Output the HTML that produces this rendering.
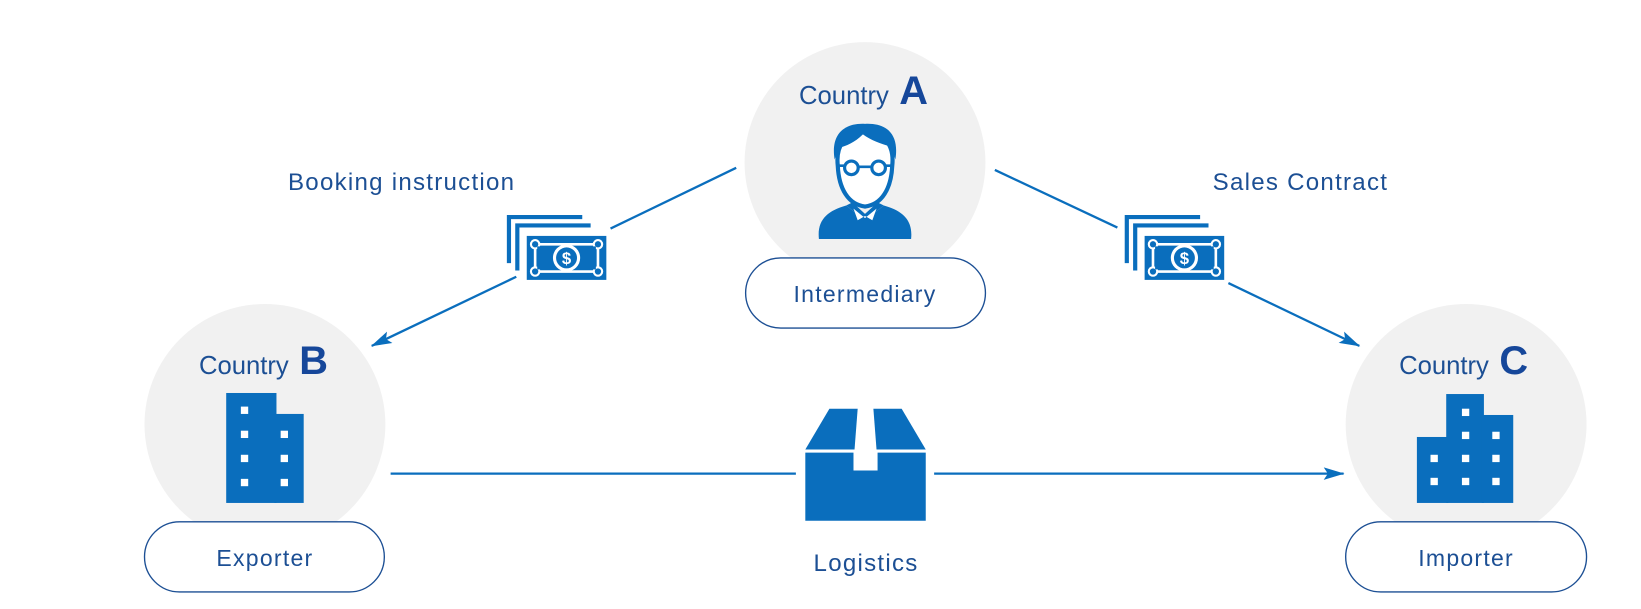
<!DOCTYPE html>
<html><head><meta charset="utf-8"><style>
html,body{margin:0;padding:0;background:#fff;}
svg{display:block;}
text{font-family:"Liberation Sans","DejaVu Sans",sans-serif;}
</style></head><body>
<svg width="1641" height="609" viewBox="0 0 1567 581" xmlns="http://www.w3.org/2000/svg">
<defs>
<marker id="ar" markerWidth="20" markerHeight="12" refX="19" refY="6" orient="auto" markerUnits="userSpaceOnUse">
<path d="M0,0 L20,6 L0,12 L4,6 Z" fill="#0a6ebd"/>
</marker>
<g id="money">
<path d="M0,44 V0 H70" fill="none" stroke="#0a6ebd" stroke-width="4"/>
<path d="M8,51 V8 H78" fill="none" stroke="#0a6ebd" stroke-width="4"/>
<rect x="17" y="18" width="76" height="42" fill="#0a6ebd"/>
<path d="M25,26 H85 V52 H25 Z" fill="none" stroke="#fff" stroke-width="2.5"/>
<circle cx="25" cy="26" r="5" fill="#fff"/><circle cx="85" cy="26" r="5" fill="#fff"/>
<circle cx="25" cy="52" r="5" fill="#fff"/><circle cx="85" cy="52" r="5" fill="#fff"/>
<circle cx="25" cy="26" r="3" fill="#0a6ebd"/><circle cx="85" cy="26" r="3" fill="#0a6ebd"/>
<circle cx="25" cy="52" r="3" fill="#0a6ebd"/><circle cx="85" cy="52" r="3" fill="#0a6ebd"/>
<rect x="27" y="28" width="56" height="22" fill="#0a6ebd"/>
<circle cx="55" cy="39" r="13" fill="#fff"/>
<circle cx="55" cy="39" r="10" fill="#0a6ebd"/>
<text x="55" y="45" font-size="16" font-weight="bold" fill="#fff" text-anchor="middle">$</text>
</g>
</defs>

<circle cx="826" cy="155" r="115" fill="#f1f1f1"/>
<circle cx="253" cy="405" r="115" fill="#f1f1f1"/>
<circle cx="1400" cy="405" r="115" fill="#f1f1f1"/>

<rect x="712" y="246" width="229" height="67" rx="33.5" fill="#fff" stroke="#1c4f94" stroke-width="1.3"/>
<rect x="138" y="498" width="229" height="67" rx="33.5" fill="#fff" stroke="#1c4f94" stroke-width="1.3"/>
<rect x="1285" y="498" width="230" height="67" rx="33.5" fill="#fff" stroke="#1c4f94" stroke-width="1.3"/>
<text x="826" y="288" font-size="22" fill="#1c4f94" text-anchor="middle" letter-spacing="1.2">Intermediary</text>
<text x="253" y="540" font-size="22" fill="#1c4f94" text-anchor="middle" letter-spacing="1.2">Exporter</text>
<text x="1400" y="540" font-size="22" fill="#1c4f94" text-anchor="middle" letter-spacing="1.2">Importer</text>

<text x="763" y="99" font-size="24.5" fill="#1c4f94">Country<tspan font-size="38" font-weight="bold" dx="10" fill="#16479a">A</tspan></text>
<text x="190" y="357" font-size="24.5" fill="#1c4f94">Country<tspan font-size="38" font-weight="bold" dx="10" fill="#16479a">B</tspan></text>
<text x="1336" y="357" font-size="24.5" fill="#1c4f94">Country<tspan font-size="38" font-weight="bold" dx="10" fill="#16479a">C</tspan></text>

<!-- person icon -->
<g fill="#0a6ebd">
<path d="M782,228 C780,210 790,201 808,196 L826,210 L844,196 C862,201 872,210 870,228 Z"/>
<path d="M800,158 C798,140 806,126 826,126 C846,126 854,140 852,158 C851,180 842,195 826,197 C810,195 801,180 800,158 Z" fill="#fff" stroke="#0a6ebd" stroke-width="4"/>
<path d="M797,152 C793,128 806,117 826,118 C846,117 859,127 855,152 L851,140 C842,137 832,134 824,128 C816,136 808,139 801,141 Z"/>
<path d="M808,196 L826,210 L844,196 L838,193 L826,204 L814,193 Z" fill="#0a6ebd"/>
<path d="M815,199 L826,208 L837,199 L833,210 L826,206 L819,210 Z" fill="#fff"/>
<path d="M823,208 h6 l2,15 l-5,5 l-5,-5 Z"/>
<circle cx="813" cy="160" r="6.5" fill="#fff" stroke="#0a6ebd" stroke-width="3"/>
<circle cx="839" cy="160" r="6.5" fill="#fff" stroke="#0a6ebd" stroke-width="3"/>
<path d="M819,159 h14 M806,158 h-6 M846,158 h6" stroke="#0a6ebd" stroke-width="2.5"/>
</g>

<g fill="#0a6ebd">
<rect x="216" y="375" width="48" height="105"/>
<rect x="262" y="395" width="28" height="85"/>
</g>
<g fill="#fff">
<rect x="230" y="388" width="7" height="7"/>
<rect x="230" y="411" width="7" height="7"/><rect x="268" y="411" width="7" height="7"/>
<rect x="230" y="434" width="7" height="7"/><rect x="268" y="434" width="7" height="7"/>
<rect x="230" y="457" width="7" height="7"/><rect x="268" y="457" width="7" height="7"/>
</g>

<g fill="#0a6ebd">
<rect x="1381" y="376" width="36" height="104"/>
<rect x="1415" y="396" width="30" height="84"/>
<rect x="1353" y="417" width="30" height="63"/>
</g>
<g fill="#fff">
<rect x="1396" y="390" width="7" height="7"/>
<rect x="1396" y="412" width="7" height="7"/><rect x="1425" y="412" width="7" height="7"/>
<rect x="1366" y="434" width="7" height="7"/><rect x="1396" y="434" width="7" height="7"/><rect x="1425" y="434" width="7" height="7"/>
<rect x="1366" y="456" width="7" height="7"/><rect x="1396" y="456" width="7" height="7"/><rect x="1425" y="456" width="7" height="7"/>
</g>

<g fill="#0a6ebd">
<path d="M769,429 L792,390 L819,390 L816,429 Z"/>
<path d="M837,429 L834,390 L861,390 L884,429 Z"/>
<path d="M769,432 H884 V497 H769 Z M815,432 V449 H838 V432 Z" fill-rule="evenodd"/>
</g>

<g stroke="#0a6ebd" stroke-width="2.2" fill="none">
<line x1="703" y1="160" x2="583" y2="218"/>
<line x1="493" y1="264" x2="355" y2="330" marker-end="url(#ar)"/>
<line x1="950" y1="162" x2="1067" y2="217"/>
<line x1="1173" y1="270" x2="1298" y2="330" marker-end="url(#ar)"/>
<line x1="373" y1="452" x2="760" y2="452"/>
<line x1="892" y1="452" x2="1283" y2="452" marker-end="url(#ar)"/>
</g>

<use href="#money" x="486" y="207"/>
<use href="#money" x="1076" y="207"/>

<text x="275" y="181" font-size="23" fill="#1c4f94" letter-spacing="1.2">Booking instruction</text>
<text x="1158" y="181" font-size="23" fill="#1c4f94" letter-spacing="1.2">Sales Contract</text>
<text x="827" y="545" font-size="23" fill="#1c4f94" text-anchor="middle" letter-spacing="1.2">Logistics</text>
</svg>
</body></html>
